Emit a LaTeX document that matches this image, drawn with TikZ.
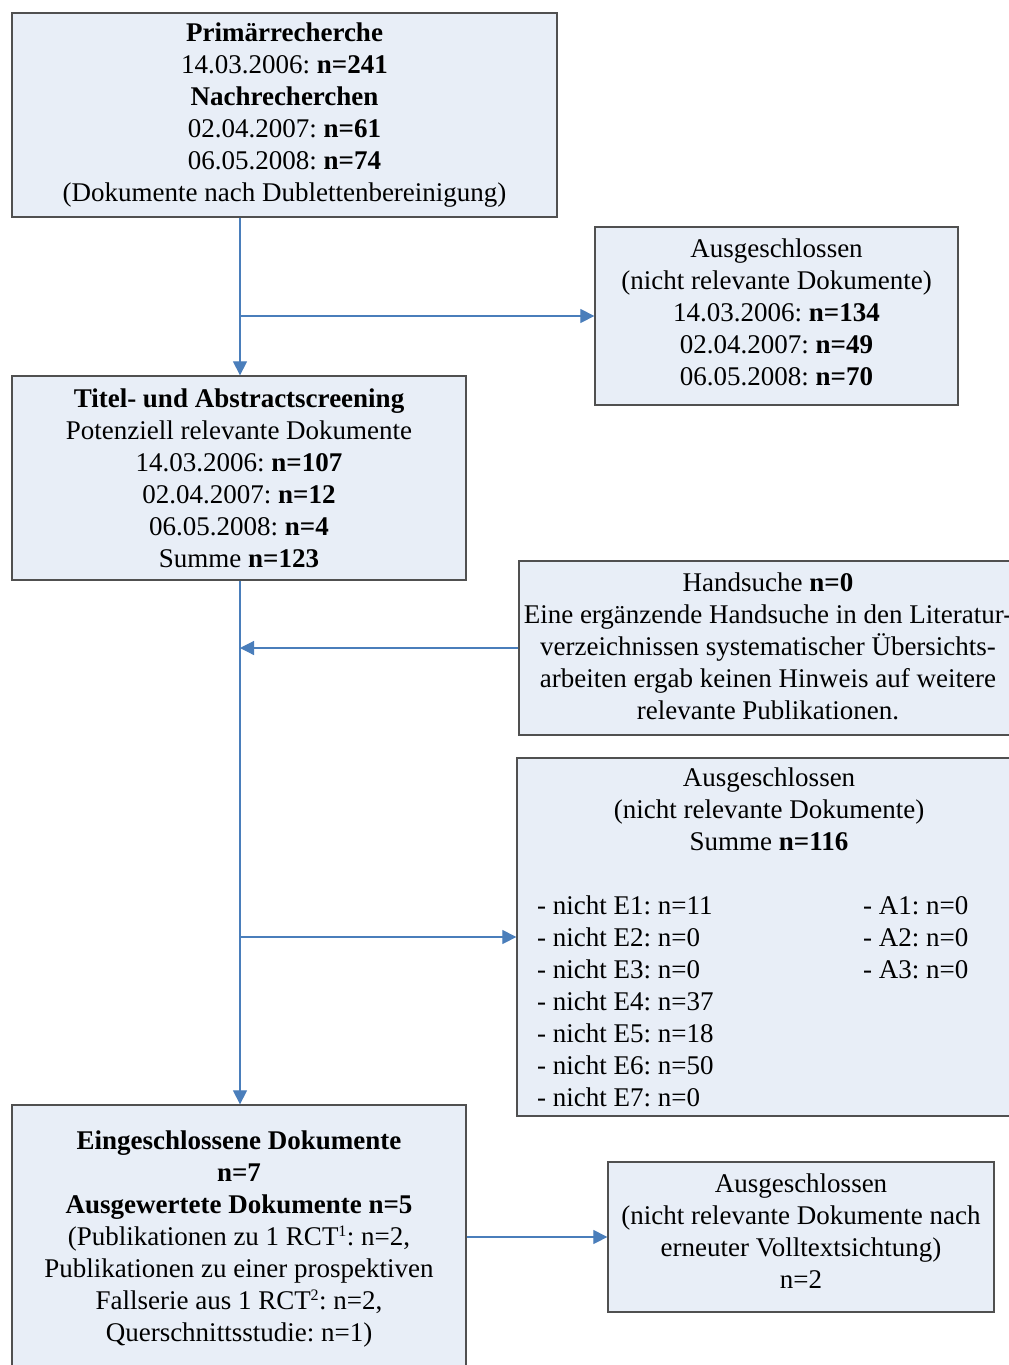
\documentclass[tikz,border=0pt]{standalone}
\usepackage{fontspec}
\setmainfont{Liberation Serif}
\usetikzlibrary{arrows.meta}
\frenchspacing
\definecolor{boxfill}{HTML}{E8EEF7}
\definecolor{boxdraw}{HTML}{505050}
\definecolor{arrowc}{HTML}{4A7EBB}
\tikzset{
  flowbox/.style={draw=boxdraw, fill=boxfill, line width=1.3pt, inner sep=0pt,
    align=center, font=\fontsize{27}{32}\selectfont},
  txt/.style={inner sep=0pt, font=\fontsize{27}{32}\selectfont},
  conn/.style={draw=arrowc, line width=1.2pt, -{Triangle[length=14pt,width=14pt]}}
}
\newcommand{\supnum}[1]{\textsuperscript{\fontsize{16}{16}\selectfont #1}}
\begin{document}
\begin{tikzpicture}[x=1pt,y=-1pt]
\useasboundingbox (0,0) rectangle (1009,1365);
\clip (0,0) rectangle (1009,1365);
\fill[white] (0,0) rectangle (1009,1365);

\node[flowbox, minimum width=545pt, minimum height=204pt] (b1) at (284.5,115)
  {\textbf{Primärrecherche}\\14.03.2006: \textbf{n=241}\\\textbf{Nachrecherchen}\\02.04.2007: \textbf{n=61}\\06.05.2008: \textbf{n=74}\\(Dokumente nach Dublettenbereinigung)};

\node[flowbox, minimum width=363pt, minimum height=178pt] (x1) at (776.5,316) {};
\node[txt, align=center] (x1t) at (776.5,312)
  {Ausgeschlossen\\(nicht relevante Dokumente)\\14.03.2006: \textbf{n=134}\\02.04.2007: \textbf{n=49}\\06.05.2008: \textbf{n=70}};

\node[flowbox, minimum width=454pt, minimum height=204pt] (b2) at (239,478)
  {\textbf{Titel- und Abstractscreening}\\Potenziell relevante Dokumente\\14.03.2006: \textbf{n=107}\\02.04.2007: \textbf{n=12}\\06.05.2008: \textbf{n=4}\\Summe \textbf{n=123}};

\node[flowbox, minimum width=500pt, minimum height=174pt] (hs) at (769,648) {};
\node[txt, align=center] (hst) at (768,646)
  {Handsuche \textbf{n=0}\\Eine ergänzende Handsuche in den Literatur-\\verzeichnissen systematischer Übersichts-\\arbeiten ergab keinen Hinweis auf weitere\\relevante Publikationen.};

\node[flowbox, minimum width=504pt, minimum height=358pt] (x2) at (769,937) {};
\node[txt, align=center, anchor=north] (x2t) at (769,768)
  {Ausgeschlossen\\(nicht relevante Dokumente)\\Summe \textbf{n=116}};
\node[txt, align=left, anchor=north west] (x2l) at (537,896)
  {- nicht E1: n=11\\- nicht E2: n=0\\- nicht E3: n=0\\- nicht E4: n=37\\- nicht E5: n=18\\- nicht E6: n=50\\- nicht E7: n=0};
\node[txt, align=left, anchor=north west] (x2r) at (863,896)
  {- A1: n=0\\- A2: n=0\\- A3: n=0};

\node[flowbox, minimum width=454pt, minimum height=264pt] (b3) at (239,1237) {};
\node[txt, align=center] (b3t) at (239,1239)
  {\textbf{Eingeschlossene Dokumente}\\\textbf{n=7}\\\textbf{Ausgewertete Dokumente n=5}\\(Publikationen zu 1 RCT\supnum{1}: n=2,\\Publikationen zu einer prospektiven\\Fallserie aus 1 RCT\supnum{2}: n=2,\\Querschnittsstudie: n=1)};

\node[flowbox, minimum width=386pt, minimum height=150pt] (x3) at (801,1237) {};
\node[txt, align=center] (x3t) at (801,1231)
  {Ausgeschlossen\\(nicht relevante Dokumente nach\\erneuter Volltextsichtung)\\n=2};

\coordinate (sp) at (240,0);
\coordinate (j1) at (240,316);
\coordinate (j2) at (240,648);
\coordinate (j3) at (240,937);

\draw[conn] (b1.south -| sp) -- (b2.north -| sp);
\draw[conn] (j1) -- (x1.west);
\draw[conn] (b2.south -| sp) -- (b3.north -| sp);
\draw[conn] (hs.west) -- (j2);
\draw[conn] (j3) -- (x2.west);
\draw[conn] (b3.east) -- (x3.west);
\end{tikzpicture}
\end{document}
